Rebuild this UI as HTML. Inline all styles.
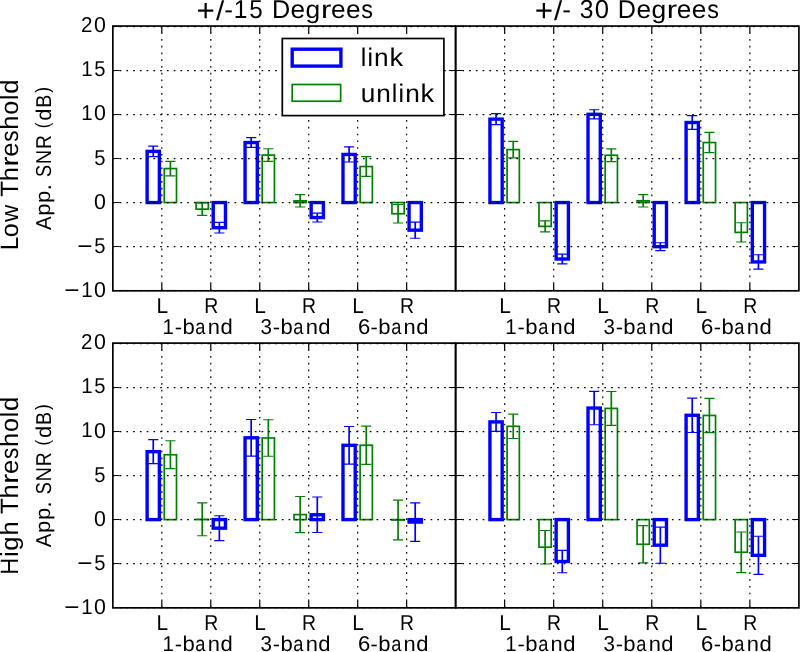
<!DOCTYPE html>
<html><head><meta charset="utf-8"><style>
html,body{margin:0;padding:0;background:#fff;}
svg{display:block;will-change:transform;}
text{font-family:"Liberation Sans",sans-serif;font-kerning:none;text-rendering:geometricPrecision;}
</style></head><body>
<svg width="800" height="652" viewBox="0 0 800 652">
<rect width="800" height="652" fill="#fff"/>
<g><rect x="147.12" y="151.36" width="12.24" height="51.19" fill="#fff" stroke="#0000ff" stroke-width="3.38"/><rect x="164.26" y="168.57" width="12.24" height="33.98" fill="#fff" stroke="#008000" stroke-width="1.69"/><rect x="213.23" y="202.55" width="12.24" height="25.15" fill="#fff" stroke="#0000ff" stroke-width="3.38"/><rect x="196.09" y="202.55" width="12.24" height="6.62" fill="#fff" stroke="#008000" stroke-width="1.69"/><rect x="245.05" y="142.54" width="12.24" height="60.01" fill="#fff" stroke="#0000ff" stroke-width="3.38"/><rect x="262.19" y="155.07" width="12.24" height="47.48" fill="#fff" stroke="#008000" stroke-width="1.69"/><rect x="311.16" y="202.55" width="12.24" height="15" fill="#fff" stroke="#0000ff" stroke-width="3.38"/><rect x="294.02" y="200.78" width="12.24" height="1.77" fill="#fff" stroke="#008000" stroke-width="1.69"/><rect x="342.98" y="154.45" width="12.24" height="48.1" fill="#fff" stroke="#0000ff" stroke-width="3.38"/><rect x="360.12" y="166.54" width="12.24" height="36.01" fill="#fff" stroke="#008000" stroke-width="1.69"/><rect x="409.08" y="202.55" width="12.24" height="27.62" fill="#fff" stroke="#0000ff" stroke-width="3.38"/><rect x="391.95" y="202.55" width="12.24" height="11.21" fill="#fff" stroke="#008000" stroke-width="1.69"/></g>
<g fill="none"><path d="M153.25 146.07V156.66" stroke="#0000ff" stroke-width="1.69"/><path d="M148.18 146.07H158.32M148.18 156.66H158.32" stroke="#0000ff" stroke-width="1.15"/><path d="M170.38 161.34V175.81" stroke="#008000" stroke-width="1.69"/><path d="M165.31 161.34H175.45M165.31 175.81H175.45" stroke="#008000" stroke-width="1.15"/><path d="M219.35 222.41V233" stroke="#0000ff" stroke-width="1.69"/><path d="M214.28 222.41H224.42M214.28 233H224.42" stroke="#0000ff" stroke-width="1.15"/><path d="M202.21 202.99V215.35" stroke="#008000" stroke-width="1.69"/><path d="M197.14 202.99H207.28M197.14 215.35H207.28" stroke="#008000" stroke-width="1.15"/><path d="M251.17 137.69V147.39" stroke="#0000ff" stroke-width="1.69"/><path d="M246.1 137.69H256.24M246.1 147.39H256.24" stroke="#0000ff" stroke-width="1.15"/><path d="M268.31 148.72V161.43" stroke="#008000" stroke-width="1.69"/><path d="M263.24 148.72H273.38M263.24 161.43H273.38" stroke="#008000" stroke-width="1.15"/><path d="M317.28 213.14V221.97" stroke="#0000ff" stroke-width="1.69"/><path d="M312.21 213.14H322.35M312.21 221.97H322.35" stroke="#0000ff" stroke-width="1.15"/><path d="M300.14 194.61V206.96" stroke="#008000" stroke-width="1.69"/><path d="M295.07 194.61H305.21M295.07 206.96H305.21" stroke="#008000" stroke-width="1.15"/><path d="M349.1 146.86V162.04" stroke="#0000ff" stroke-width="1.69"/><path d="M344.03 146.86H354.17M344.03 162.04H354.17" stroke="#0000ff" stroke-width="1.15"/><path d="M366.24 156.66V176.43" stroke="#008000" stroke-width="1.69"/><path d="M361.17 156.66H371.31M361.17 176.43H371.31" stroke="#008000" stroke-width="1.15"/><path d="M415.2 222.05V238.29" stroke="#0000ff" stroke-width="1.69"/><path d="M410.13 222.05H420.27M410.13 238.29H420.27" stroke="#0000ff" stroke-width="1.15"/><path d="M398.07 204.49V223.02" stroke="#008000" stroke-width="1.69"/><path d="M393 204.49H403.14M393 223.02H403.14" stroke="#008000" stroke-width="1.15"/></g>
<path d="M161.81 290.8V26.05M210.78 290.8V26.05M259.74 290.8V26.05M308.71 290.8V26.05M357.67 290.8V26.05M406.64 290.8V26.05" stroke="#000" stroke-width="1.2" stroke-dasharray="1.69 5.07" fill="none"/>
<path d="M112.85 290.5H455.6M112.85 246.5H455.6M112.85 202.5H455.6M112.85 158.5H455.6M112.85 114.5H455.6M112.85 70.5H455.6M112.85 26.5H455.6" stroke="#000" stroke-width="1.25" stroke-dasharray="1.69 5.07" fill="none"/>
<path d="M161.81 290.8v-6.76M161.81 26.05v6.76M210.78 290.8v-6.76M210.78 26.05v6.76M259.74 290.8v-6.76M259.74 26.05v6.76M308.71 290.8v-6.76M308.71 26.05v6.76M357.67 290.8v-6.76M357.67 26.05v6.76M406.64 290.8v-6.76M406.64 26.05v6.76" stroke="#000" stroke-width="1.2" fill="none"/>
<path d="M112.85 290.5h6.76M455.6 290.5h-6.76M112.85 246.5h6.76M455.6 246.5h-6.76M112.85 202.5h6.76M455.6 202.5h-6.76M112.85 158.5h6.76M455.6 158.5h-6.76M112.85 114.5h6.76M455.6 114.5h-6.76M112.85 70.5h6.76M455.6 70.5h-6.76M112.85 26.5h6.76M455.6 26.5h-6.76" stroke="#000" stroke-width="1" fill="none"/>
<rect x="112.85" y="26.05" width="342.75" height="264.75" fill="none" stroke="#000" stroke-width="1.69"/>
<g><rect x="489.93" y="119.15" width="12.26" height="83.4" fill="#fff" stroke="#0000ff" stroke-width="3.38"/><rect x="507.1" y="149.6" width="12.26" height="52.95" fill="#fff" stroke="#008000" stroke-width="1.69"/><rect x="556.14" y="202.55" width="12.26" height="56.48" fill="#fff" stroke="#0000ff" stroke-width="3.38"/><rect x="538.97" y="202.55" width="12.26" height="23.83" fill="#fff" stroke="#008000" stroke-width="1.69"/><rect x="588.02" y="114.3" width="12.26" height="88.25" fill="#fff" stroke="#0000ff" stroke-width="3.38"/><rect x="605.18" y="155.25" width="12.26" height="47.3" fill="#fff" stroke="#008000" stroke-width="1.69"/><rect x="654.22" y="202.55" width="12.26" height="44.12" fill="#fff" stroke="#0000ff" stroke-width="3.38"/><rect x="637.06" y="200.78" width="12.26" height="1.77" fill="#fff" stroke="#008000" stroke-width="1.69"/><rect x="686.1" y="122.51" width="12.26" height="80.04" fill="#fff" stroke="#0000ff" stroke-width="3.38"/><rect x="703.27" y="142.54" width="12.26" height="60.01" fill="#fff" stroke="#008000" stroke-width="1.69"/><rect x="752.31" y="202.55" width="12.26" height="59.39" fill="#fff" stroke="#0000ff" stroke-width="3.38"/><rect x="735.14" y="202.55" width="12.26" height="29.83" fill="#fff" stroke="#008000" stroke-width="1.69"/></g>
<g fill="none"><path d="M496.06 113.68V124.63" stroke="#0000ff" stroke-width="1.69"/><path d="M490.99 113.68H501.13M490.99 124.63H501.13" stroke="#0000ff" stroke-width="1.15"/><path d="M513.23 141.39V157.81" stroke="#008000" stroke-width="1.69"/><path d="M508.16 141.39H518.3M508.16 157.81H518.3" stroke="#008000" stroke-width="1.15"/><path d="M562.27 254.18V263.88" stroke="#0000ff" stroke-width="1.69"/><path d="M557.2 254.18H567.34M557.2 263.88H567.34" stroke="#0000ff" stroke-width="1.15"/><path d="M545.1 220.82V231.94" stroke="#008000" stroke-width="1.69"/><path d="M540.03 220.82H550.17M540.03 231.94H550.17" stroke="#008000" stroke-width="1.15"/><path d="M594.15 109.71V118.89" stroke="#0000ff" stroke-width="1.69"/><path d="M589.08 109.71H599.22M589.08 118.89H599.22" stroke="#0000ff" stroke-width="1.15"/><path d="M611.31 148.81V161.69" stroke="#008000" stroke-width="1.69"/><path d="M606.24 148.81H616.38M606.24 161.69H616.38" stroke="#008000" stroke-width="1.15"/><path d="M660.35 242.7V250.65" stroke="#0000ff" stroke-width="1.69"/><path d="M655.28 242.7H665.42M655.28 250.65H665.42" stroke="#0000ff" stroke-width="1.15"/><path d="M643.19 194.61V206.96" stroke="#008000" stroke-width="1.69"/><path d="M638.12 194.61H648.26M638.12 206.96H648.26" stroke="#008000" stroke-width="1.15"/><path d="M692.23 115.62V129.39" stroke="#0000ff" stroke-width="1.69"/><path d="M687.16 115.62H697.3M687.16 129.39H697.3" stroke="#0000ff" stroke-width="1.15"/><path d="M709.4 132.39V152.69" stroke="#008000" stroke-width="1.69"/><path d="M704.33 132.39H714.47M704.33 152.69H714.47" stroke="#008000" stroke-width="1.15"/><path d="M758.44 254.79V269.09" stroke="#0000ff" stroke-width="1.69"/><path d="M753.37 254.79H763.51M753.37 269.09H763.51" stroke="#0000ff" stroke-width="1.15"/><path d="M741.27 222.76V242" stroke="#008000" stroke-width="1.69"/><path d="M736.2 222.76H746.34M736.2 242H746.34" stroke="#008000" stroke-width="1.15"/></g>
<path d="M504.64 290.8V26.05M553.69 290.8V26.05M602.73 290.8V26.05M651.77 290.8V26.05M700.81 290.8V26.05M749.86 290.8V26.05" stroke="#000" stroke-width="1.2" stroke-dasharray="1.69 5.07" fill="none"/>
<path d="M455.6 290.5H798.9M455.6 246.5H798.9M455.6 202.5H798.9M455.6 158.5H798.9M455.6 114.5H798.9M455.6 70.5H798.9M455.6 26.5H798.9" stroke="#000" stroke-width="1.25" stroke-dasharray="1.69 5.07" fill="none"/>
<path d="M504.64 290.8v-6.76M504.64 26.05v6.76M553.69 290.8v-6.76M553.69 26.05v6.76M602.73 290.8v-6.76M602.73 26.05v6.76M651.77 290.8v-6.76M651.77 26.05v6.76M700.81 290.8v-6.76M700.81 26.05v6.76M749.86 290.8v-6.76M749.86 26.05v6.76" stroke="#000" stroke-width="1.2" fill="none"/>
<path d="M455.6 290.5h6.76M798.9 290.5h-6.76M455.6 246.5h6.76M798.9 246.5h-6.76M455.6 202.5h6.76M798.9 202.5h-6.76M455.6 158.5h6.76M798.9 158.5h-6.76M455.6 114.5h6.76M798.9 114.5h-6.76M455.6 70.5h6.76M798.9 70.5h-6.76M455.6 26.5h6.76M798.9 26.5h-6.76" stroke="#000" stroke-width="1" fill="none"/>
<rect x="455.6" y="26.05" width="343.3" height="264.75" fill="none" stroke="#000" stroke-width="1.69"/>
<g><rect x="147.12" y="451.65" width="12.24" height="67.95" fill="#fff" stroke="#0000ff" stroke-width="3.38"/><rect x="164.26" y="454.74" width="12.24" height="64.86" fill="#fff" stroke="#008000" stroke-width="1.69"/><rect x="213.23" y="519.6" width="12.24" height="8.56" fill="#fff" stroke="#0000ff" stroke-width="3.38"/><rect x="196.09" y="519.34" width="12.24" height="0.26" fill="#fff" stroke="#008000" stroke-width="1.69"/><rect x="245.05" y="437.79" width="12.24" height="81.81" fill="#fff" stroke="#0000ff" stroke-width="3.38"/><rect x="262.19" y="437.97" width="12.24" height="81.63" fill="#fff" stroke="#008000" stroke-width="1.69"/><rect x="311.16" y="514.75" width="12.24" height="4.85" fill="#fff" stroke="#0000ff" stroke-width="3.38"/><rect x="294.02" y="514.57" width="12.24" height="5.03" fill="#fff" stroke="#008000" stroke-width="1.69"/><rect x="342.98" y="445.29" width="12.24" height="74.31" fill="#fff" stroke="#0000ff" stroke-width="3.38"/><rect x="360.12" y="445.21" width="12.24" height="74.39" fill="#fff" stroke="#008000" stroke-width="1.69"/><rect x="409.08" y="519.6" width="12.24" height="2.47" fill="#fff" stroke="#0000ff" stroke-width="3.38"/><rect x="391.95" y="519.6" width="12.24" height="0.44" fill="#fff" stroke="#008000" stroke-width="1.69"/></g>
<g fill="none"><path d="M153.25 439.65V463.65" stroke="#0000ff" stroke-width="1.69"/><path d="M148.18 439.65H158.32M148.18 463.65H158.32" stroke="#0000ff" stroke-width="1.15"/><path d="M170.38 440.79V468.68" stroke="#008000" stroke-width="1.69"/><path d="M165.31 440.79H175.45M165.31 468.68H175.45" stroke="#008000" stroke-width="1.15"/><path d="M219.35 515.72V540.6" stroke="#0000ff" stroke-width="1.69"/><path d="M214.28 515.72H224.42M214.28 540.6H224.42" stroke="#0000ff" stroke-width="1.15"/><path d="M202.21 502.92V535.75" stroke="#008000" stroke-width="1.69"/><path d="M197.14 502.92H207.28M197.14 535.75H207.28" stroke="#008000" stroke-width="1.15"/><path d="M251.17 419.52V456.06" stroke="#0000ff" stroke-width="1.69"/><path d="M246.1 419.52H256.24M246.1 456.06H256.24" stroke="#0000ff" stroke-width="1.15"/><path d="M268.31 419.7V456.24" stroke="#008000" stroke-width="1.69"/><path d="M263.24 419.7H273.38M263.24 456.24H273.38" stroke="#008000" stroke-width="1.15"/><path d="M317.28 497.01V532.48" stroke="#0000ff" stroke-width="1.69"/><path d="M312.21 497.01H322.35M312.21 532.48H322.35" stroke="#0000ff" stroke-width="1.15"/><path d="M300.14 496.48V532.66" stroke="#008000" stroke-width="1.69"/><path d="M295.07 496.48H305.21M295.07 532.66H305.21" stroke="#008000" stroke-width="1.15"/><path d="M349.1 426.5V464.09" stroke="#0000ff" stroke-width="1.69"/><path d="M344.03 426.5H354.17M344.03 464.09H354.17" stroke="#0000ff" stroke-width="1.15"/><path d="M366.24 426.06V464.36" stroke="#008000" stroke-width="1.69"/><path d="M361.17 426.06H371.31M361.17 464.36H371.31" stroke="#008000" stroke-width="1.15"/><path d="M415.2 502.83V541.31" stroke="#0000ff" stroke-width="1.69"/><path d="M410.13 502.83H420.27M410.13 541.31H420.27" stroke="#0000ff" stroke-width="1.15"/><path d="M398.07 500.19V539.9" stroke="#008000" stroke-width="1.69"/><path d="M393 500.19H403.14M393 539.9H403.14" stroke="#008000" stroke-width="1.15"/></g>
<path d="M161.81 607.85V343.1M210.78 607.85V343.1M259.74 607.85V343.1M308.71 607.85V343.1M357.67 607.85V343.1M406.64 607.85V343.1" stroke="#000" stroke-width="1.2" stroke-dasharray="1.69 5.07" fill="none"/>
<path d="M112.85 607.5H455.6M112.85 563.5H455.6M112.85 519.5H455.6M112.85 475.5H455.6M112.85 431.5H455.6M112.85 387.5H455.6M112.85 343.5H455.6" stroke="#000" stroke-width="1.25" stroke-dasharray="1.69 5.07" fill="none"/>
<path d="M161.81 607.85v-6.76M161.81 343.1v6.76M210.78 607.85v-6.76M210.78 343.1v6.76M259.74 607.85v-6.76M259.74 343.1v6.76M308.71 607.85v-6.76M308.71 343.1v6.76M357.67 607.85v-6.76M357.67 343.1v6.76M406.64 607.85v-6.76M406.64 343.1v6.76" stroke="#000" stroke-width="1.2" fill="none"/>
<path d="M112.85 607.5h6.76M455.6 607.5h-6.76M112.85 563.5h6.76M455.6 563.5h-6.76M112.85 519.5h6.76M455.6 519.5h-6.76M112.85 475.5h6.76M455.6 475.5h-6.76M112.85 431.5h6.76M455.6 431.5h-6.76M112.85 387.5h6.76M455.6 387.5h-6.76M112.85 343.5h6.76M455.6 343.5h-6.76" stroke="#000" stroke-width="1" fill="none"/>
<rect x="112.85" y="343.1" width="342.75" height="264.75" fill="none" stroke="#000" stroke-width="1.69"/>
<g><rect x="489.93" y="421.91" width="12.26" height="97.69" fill="#fff" stroke="#0000ff" stroke-width="3.38"/><rect x="507.1" y="426.32" width="12.26" height="93.28" fill="#fff" stroke="#008000" stroke-width="1.69"/><rect x="556.14" y="519.6" width="12.26" height="41.92" fill="#fff" stroke="#0000ff" stroke-width="3.38"/><rect x="538.97" y="519.6" width="12.26" height="27.62" fill="#fff" stroke="#008000" stroke-width="1.69"/><rect x="588.02" y="408.05" width="12.26" height="111.55" fill="#fff" stroke="#0000ff" stroke-width="3.38"/><rect x="605.18" y="408.41" width="12.26" height="111.19" fill="#fff" stroke="#008000" stroke-width="1.69"/><rect x="654.22" y="519.6" width="12.26" height="25.59" fill="#fff" stroke="#0000ff" stroke-width="3.38"/><rect x="637.06" y="519.6" width="12.26" height="24.71" fill="#fff" stroke="#008000" stroke-width="1.69"/><rect x="686.1" y="415.29" width="12.26" height="104.31" fill="#fff" stroke="#0000ff" stroke-width="3.38"/><rect x="703.27" y="415.47" width="12.26" height="104.13" fill="#fff" stroke="#008000" stroke-width="1.69"/><rect x="752.31" y="519.6" width="12.26" height="35.74" fill="#fff" stroke="#0000ff" stroke-width="3.38"/><rect x="735.14" y="519.6" width="12.26" height="32.65" fill="#fff" stroke="#008000" stroke-width="1.69"/></g>
<g fill="none"><path d="M496.06 412.46V431.35" stroke="#0000ff" stroke-width="1.69"/><path d="M490.99 412.46H501.13M490.99 431.35H501.13" stroke="#0000ff" stroke-width="1.15"/><path d="M513.23 414.14V438.5" stroke="#008000" stroke-width="1.69"/><path d="M508.16 414.14H518.3M508.16 438.5H518.3" stroke="#008000" stroke-width="1.15"/><path d="M562.27 550.31V572.73" stroke="#0000ff" stroke-width="1.69"/><path d="M557.2 550.31H567.34M557.2 572.73H567.34" stroke="#0000ff" stroke-width="1.15"/><path d="M545.1 530.45V563.99" stroke="#008000" stroke-width="1.69"/><path d="M540.03 530.45H550.17M540.03 563.99H550.17" stroke="#008000" stroke-width="1.15"/><path d="M594.15 391.37V424.73" stroke="#0000ff" stroke-width="1.69"/><path d="M589.08 391.37H599.22M589.08 424.73H599.22" stroke="#0000ff" stroke-width="1.15"/><path d="M611.31 391.46V425.35" stroke="#008000" stroke-width="1.69"/><path d="M606.24 391.46H616.38M606.24 425.35H616.38" stroke="#008000" stroke-width="1.15"/><path d="M660.35 527.19V563.2" stroke="#0000ff" stroke-width="1.69"/><path d="M655.28 527.19H665.42M655.28 563.2H665.42" stroke="#0000ff" stroke-width="1.15"/><path d="M643.19 525.69V562.93" stroke="#008000" stroke-width="1.69"/><path d="M638.12 525.69H648.26M638.12 562.93H648.26" stroke="#008000" stroke-width="1.15"/><path d="M692.23 398.08V432.5" stroke="#0000ff" stroke-width="1.69"/><path d="M687.16 398.08H697.3M687.16 432.5H697.3" stroke="#0000ff" stroke-width="1.15"/><path d="M709.4 398.34V432.59" stroke="#008000" stroke-width="1.69"/><path d="M704.33 398.34H714.47M704.33 432.59H714.47" stroke="#008000" stroke-width="1.15"/><path d="M758.44 536.28V574.4" stroke="#0000ff" stroke-width="1.69"/><path d="M753.37 536.28H763.51M753.37 574.4H763.51" stroke="#0000ff" stroke-width="1.15"/><path d="M741.27 531.95V572.55" stroke="#008000" stroke-width="1.69"/><path d="M736.2 531.95H746.34M736.2 572.55H746.34" stroke="#008000" stroke-width="1.15"/></g>
<path d="M504.64 607.85V343.1M553.69 607.85V343.1M602.73 607.85V343.1M651.77 607.85V343.1M700.81 607.85V343.1M749.86 607.85V343.1" stroke="#000" stroke-width="1.2" stroke-dasharray="1.69 5.07" fill="none"/>
<path d="M455.6 607.5H798.9M455.6 563.5H798.9M455.6 519.5H798.9M455.6 475.5H798.9M455.6 431.5H798.9M455.6 387.5H798.9M455.6 343.5H798.9" stroke="#000" stroke-width="1.25" stroke-dasharray="1.69 5.07" fill="none"/>
<path d="M504.64 607.85v-6.76M504.64 343.1v6.76M553.69 607.85v-6.76M553.69 343.1v6.76M602.73 607.85v-6.76M602.73 343.1v6.76M651.77 607.85v-6.76M651.77 343.1v6.76M700.81 607.85v-6.76M700.81 343.1v6.76M749.86 607.85v-6.76M749.86 343.1v6.76" stroke="#000" stroke-width="1.2" fill="none"/>
<path d="M455.6 607.5h6.76M798.9 607.5h-6.76M455.6 563.5h6.76M798.9 563.5h-6.76M455.6 519.5h6.76M798.9 519.5h-6.76M455.6 475.5h6.76M798.9 475.5h-6.76M455.6 431.5h6.76M798.9 431.5h-6.76M455.6 387.5h6.76M798.9 387.5h-6.76M455.6 343.5h6.76M798.9 343.5h-6.76" stroke="#000" stroke-width="1" fill="none"/>
<rect x="455.6" y="343.1" width="343.3" height="264.75" fill="none" stroke="#000" stroke-width="1.69"/>
<rect x="282.3" y="38.5" width="161.6" height="77.1" fill="#fff" stroke="#000" stroke-width="1.69"/>
<rect x="292.2" y="49.2" width="48.7" height="16.9" fill="#fff" stroke="#0000ff" stroke-width="3.38"/>
<rect x="292.2" y="84.5" width="48.45" height="16.75" fill="#fff" stroke="#008000" stroke-width="1.69"/>
<g font-family="Liberation Sans, sans-serif" fill="#000"><text transform="translate(360.72 66.40) scale(1.0222 1.0485)" font-size="24.34">l</text><text transform="translate(367.50 66.40) scale(1.0222 1.0485)" font-size="24.34">i</text><text transform="translate(374.10 66.40) scale(1.0782 1.0408)" font-size="24.34">n</text><text transform="translate(389.43 66.40) scale(1.1181 1.0485)" font-size="24.34">k</text><text transform="translate(360.70 101.59) scale(1.0782 1.0672)" font-size="24.34">u</text><text transform="translate(376.22 101.50) scale(1.0782 1.0408)" font-size="24.34">n</text><text transform="translate(391.80 101.50) scale(1.0222 1.0485)" font-size="24.34">l</text><text transform="translate(398.57 101.50) scale(1.0222 1.0485)" font-size="24.34">i</text><text transform="translate(405.17 101.50) scale(1.0782 1.0408)" font-size="24.34">n</text><text transform="translate(420.50 101.50) scale(1.1181 1.0485)" font-size="24.34">k</text><text transform="translate(196.57 20.84) scale(1.2884 1.2814)" font-size="24.34">+</text><text transform="translate(215.91 20.09) scale(1.2127 1.1190)" font-size="24.34">/</text><text transform="translate(224.13 18.06) scale(1.0780 1.0250)" font-size="24.34">-</text><text transform="translate(233.70 18.10) scale(1.0068 1.0596)" font-size="24.34">1</text><text transform="translate(249.28 18.19) scale(0.9949 1.0651)" font-size="24.34">5</text><text transform="translate(271.92 18.10) scale(1.0346 1.0596)" font-size="24.34">D</text><text transform="translate(290.56 18.20) scale(1.0801 1.0481)" font-size="24.34">e</text><text transform="translate(305.54 17.95) scale(1.0869 1.0322)" font-size="24.34">g</text><text transform="translate(320.89 18.10) scale(1.2813 1.0408)" font-size="24.34">r</text><text transform="translate(330.99 18.20) scale(1.0801 1.0481)" font-size="24.34">e</text><text transform="translate(345.96 18.20) scale(1.0801 1.0481)" font-size="24.34">e</text><text transform="translate(361.37 18.19) scale(0.9586 1.0509)" font-size="24.34">s</text><text transform="translate(534.72 20.84) scale(1.2884 1.2814)" font-size="24.34">+</text><text transform="translate(554.06 20.09) scale(1.2127 1.1190)" font-size="24.34">/</text><text transform="translate(562.28 18.06) scale(1.0780 1.0250)" font-size="24.34">-</text><text transform="translate(579.69 18.19) scale(1.0124 1.0683)" font-size="24.34">3</text><text transform="translate(594.86 18.19) scale(1.0541 1.0683)" font-size="24.34">0</text><text transform="translate(617.80 18.10) scale(1.0346 1.0596)" font-size="24.34">D</text><text transform="translate(636.45 18.20) scale(1.0801 1.0481)" font-size="24.34">e</text><text transform="translate(651.42 17.95) scale(1.0869 1.0322)" font-size="24.34">g</text><text transform="translate(666.78 18.10) scale(1.2813 1.0408)" font-size="24.34">r</text><text transform="translate(676.87 18.20) scale(1.0801 1.0481)" font-size="24.34">e</text><text transform="translate(691.84 18.20) scale(1.0801 1.0481)" font-size="24.34">e</text><text transform="translate(707.26 18.19) scale(0.9586 1.0509)" font-size="24.34">s</text><text transform="translate(64.36 298.39) scale(1.2884 1.1644)" font-size="20.28">−</text><text transform="translate(81.17 296.90) scale(1.0068 1.0596)" font-size="20.28">1</text><text transform="translate(93.90 296.98) scale(1.0541 1.0683)" font-size="20.28">0</text><text transform="translate(77.27 254.27) scale(1.2884 1.1644)" font-size="20.28">−</text><text transform="translate(94.15 252.85) scale(0.9949 1.0651)" font-size="20.28">5</text><text transform="translate(93.90 208.73) scale(1.0541 1.0683)" font-size="20.28">0</text><text transform="translate(94.15 164.60) scale(0.9949 1.0651)" font-size="20.28">5</text><text transform="translate(81.17 120.40) scale(1.0068 1.0596)" font-size="20.28">1</text><text transform="translate(93.90 120.48) scale(1.0541 1.0683)" font-size="20.28">0</text><text transform="translate(81.17 76.27) scale(1.0068 1.0596)" font-size="20.28">1</text><text transform="translate(94.15 76.35) scale(0.9949 1.0651)" font-size="20.28">5</text><text transform="translate(80.94 32.15) scale(1.0161 1.0629)" font-size="20.28">2</text><text transform="translate(93.90 32.23) scale(1.0541 1.0683)" font-size="20.28">0</text><text transform="translate(64.36 615.44) scale(1.2884 1.1644)" font-size="20.28">−</text><text transform="translate(81.17 613.95) scale(1.0068 1.0596)" font-size="20.28">1</text><text transform="translate(93.90 614.03) scale(1.0541 1.0683)" font-size="20.28">0</text><text transform="translate(77.27 571.32) scale(1.2884 1.1644)" font-size="20.28">−</text><text transform="translate(94.15 569.90) scale(0.9949 1.0651)" font-size="20.28">5</text><text transform="translate(93.90 525.78) scale(1.0541 1.0683)" font-size="20.28">0</text><text transform="translate(94.15 481.65) scale(0.9949 1.0651)" font-size="20.28">5</text><text transform="translate(81.17 437.45) scale(1.0068 1.0596)" font-size="20.28">1</text><text transform="translate(93.90 437.53) scale(1.0541 1.0683)" font-size="20.28">0</text><text transform="translate(81.17 393.33) scale(1.0068 1.0596)" font-size="20.28">1</text><text transform="translate(94.15 393.40) scale(0.9949 1.0651)" font-size="20.28">5</text><text transform="translate(80.94 349.20) scale(1.0161 1.0629)" font-size="20.28">2</text><text transform="translate(93.90 349.28) scale(1.0541 1.0683)" font-size="20.28">0</text><text transform="translate(156.44 313.20) scale(1.0288 1.0596)" font-size="20.28">L</text><text transform="translate(204.13 313.20) scale(0.9564 1.0596)" font-size="20.28">R</text><text transform="translate(254.37 313.20) scale(1.0288 1.0596)" font-size="20.28">L</text><text transform="translate(302.06 313.20) scale(0.9564 1.0596)" font-size="20.28">R</text><text transform="translate(352.30 313.20) scale(1.0288 1.0596)" font-size="20.28">L</text><text transform="translate(399.99 313.20) scale(0.9564 1.0596)" font-size="20.28">R</text><text transform="translate(162.49 334.30) scale(1.0068 1.0596)" font-size="20.28">1</text><text transform="translate(174.74 334.27) scale(1.0780 1.0250)" font-size="20.28">-</text><text transform="translate(182.45 334.38) scale(1.0879 1.0539)" font-size="20.28">b</text><text transform="translate(195.35 334.38) scale(0.8992 1.0481)" font-size="20.28">a</text><text transform="translate(207.73 334.30) scale(1.0782 1.0408)" font-size="20.28">n</text><text transform="translate(220.38 334.38) scale(1.0869 1.0539)" font-size="20.28">d</text><text transform="translate(260.51 334.38) scale(1.0124 1.0683)" font-size="20.28">3</text><text transform="translate(272.66 334.27) scale(1.0780 1.0250)" font-size="20.28">-</text><text transform="translate(280.38 334.38) scale(1.0879 1.0539)" font-size="20.28">b</text><text transform="translate(293.28 334.38) scale(0.8992 1.0481)" font-size="20.28">a</text><text transform="translate(305.65 334.30) scale(1.0782 1.0408)" font-size="20.28">n</text><text transform="translate(318.31 334.38) scale(1.0869 1.0539)" font-size="20.28">d</text><text transform="translate(357.96 334.38) scale(1.0910 1.0683)" font-size="20.28">6</text><text transform="translate(370.59 334.27) scale(1.0780 1.0250)" font-size="20.28">-</text><text transform="translate(378.31 334.38) scale(1.0879 1.0539)" font-size="20.28">b</text><text transform="translate(391.21 334.38) scale(0.8992 1.0481)" font-size="20.28">a</text><text transform="translate(403.58 334.30) scale(1.0782 1.0408)" font-size="20.28">n</text><text transform="translate(416.24 334.38) scale(1.0869 1.0539)" font-size="20.28">d</text><text transform="translate(499.27 313.20) scale(1.0288 1.0596)" font-size="20.28">L</text><text transform="translate(547.04 313.20) scale(0.9564 1.0596)" font-size="20.28">R</text><text transform="translate(597.36 313.20) scale(1.0288 1.0596)" font-size="20.28">L</text><text transform="translate(645.13 313.20) scale(0.9564 1.0596)" font-size="20.28">R</text><text transform="translate(695.44 313.20) scale(1.0288 1.0596)" font-size="20.28">L</text><text transform="translate(743.21 313.20) scale(0.9564 1.0596)" font-size="20.28">R</text><text transform="translate(505.32 334.30) scale(1.0068 1.0596)" font-size="20.28">1</text><text transform="translate(517.56 334.27) scale(1.0780 1.0250)" font-size="20.28">-</text><text transform="translate(525.28 334.38) scale(1.0879 1.0539)" font-size="20.28">b</text><text transform="translate(538.18 334.38) scale(0.8992 1.0481)" font-size="20.28">a</text><text transform="translate(550.55 334.30) scale(1.0782 1.0408)" font-size="20.28">n</text><text transform="translate(563.21 334.38) scale(1.0869 1.0539)" font-size="20.28">d</text><text transform="translate(603.49 334.38) scale(1.0124 1.0683)" font-size="20.28">3</text><text transform="translate(615.65 334.27) scale(1.0780 1.0250)" font-size="20.28">-</text><text transform="translate(623.37 334.38) scale(1.0879 1.0539)" font-size="20.28">b</text><text transform="translate(636.27 334.38) scale(0.8992 1.0481)" font-size="20.28">a</text><text transform="translate(648.64 334.30) scale(1.0782 1.0408)" font-size="20.28">n</text><text transform="translate(661.30 334.38) scale(1.0869 1.0539)" font-size="20.28">d</text><text transform="translate(701.11 334.38) scale(1.0910 1.0683)" font-size="20.28">6</text><text transform="translate(713.74 334.27) scale(1.0780 1.0250)" font-size="20.28">-</text><text transform="translate(721.45 334.38) scale(1.0879 1.0539)" font-size="20.28">b</text><text transform="translate(734.35 334.38) scale(0.8992 1.0481)" font-size="20.28">a</text><text transform="translate(746.73 334.30) scale(1.0782 1.0408)" font-size="20.28">n</text><text transform="translate(759.38 334.38) scale(1.0869 1.0539)" font-size="20.28">d</text><text transform="translate(156.44 630.25) scale(1.0288 1.0596)" font-size="20.28">L</text><text transform="translate(204.13 630.25) scale(0.9564 1.0596)" font-size="20.28">R</text><text transform="translate(254.37 630.25) scale(1.0288 1.0596)" font-size="20.28">L</text><text transform="translate(302.06 630.25) scale(0.9564 1.0596)" font-size="20.28">R</text><text transform="translate(352.30 630.25) scale(1.0288 1.0596)" font-size="20.28">L</text><text transform="translate(399.99 630.25) scale(0.9564 1.0596)" font-size="20.28">R</text><text transform="translate(162.49 651.35) scale(1.0068 1.0596)" font-size="20.28">1</text><text transform="translate(174.74 651.32) scale(1.0780 1.0250)" font-size="20.28">-</text><text transform="translate(182.45 651.43) scale(1.0879 1.0539)" font-size="20.28">b</text><text transform="translate(195.35 651.43) scale(0.8992 1.0481)" font-size="20.28">a</text><text transform="translate(207.73 651.35) scale(1.0782 1.0408)" font-size="20.28">n</text><text transform="translate(220.38 651.43) scale(1.0869 1.0539)" font-size="20.28">d</text><text transform="translate(260.51 651.43) scale(1.0124 1.0683)" font-size="20.28">3</text><text transform="translate(272.66 651.32) scale(1.0780 1.0250)" font-size="20.28">-</text><text transform="translate(280.38 651.43) scale(1.0879 1.0539)" font-size="20.28">b</text><text transform="translate(293.28 651.43) scale(0.8992 1.0481)" font-size="20.28">a</text><text transform="translate(305.65 651.35) scale(1.0782 1.0408)" font-size="20.28">n</text><text transform="translate(318.31 651.43) scale(1.0869 1.0539)" font-size="20.28">d</text><text transform="translate(357.96 651.43) scale(1.0910 1.0683)" font-size="20.28">6</text><text transform="translate(370.59 651.32) scale(1.0780 1.0250)" font-size="20.28">-</text><text transform="translate(378.31 651.43) scale(1.0879 1.0539)" font-size="20.28">b</text><text transform="translate(391.21 651.43) scale(0.8992 1.0481)" font-size="20.28">a</text><text transform="translate(403.58 651.35) scale(1.0782 1.0408)" font-size="20.28">n</text><text transform="translate(416.24 651.43) scale(1.0869 1.0539)" font-size="20.28">d</text><text transform="translate(499.27 630.25) scale(1.0288 1.0596)" font-size="20.28">L</text><text transform="translate(547.04 630.25) scale(0.9564 1.0596)" font-size="20.28">R</text><text transform="translate(597.36 630.25) scale(1.0288 1.0596)" font-size="20.28">L</text><text transform="translate(645.13 630.25) scale(0.9564 1.0596)" font-size="20.28">R</text><text transform="translate(695.44 630.25) scale(1.0288 1.0596)" font-size="20.28">L</text><text transform="translate(743.21 630.25) scale(0.9564 1.0596)" font-size="20.28">R</text><text transform="translate(505.32 651.35) scale(1.0068 1.0596)" font-size="20.28">1</text><text transform="translate(517.56 651.32) scale(1.0780 1.0250)" font-size="20.28">-</text><text transform="translate(525.28 651.43) scale(1.0879 1.0539)" font-size="20.28">b</text><text transform="translate(538.18 651.43) scale(0.8992 1.0481)" font-size="20.28">a</text><text transform="translate(550.55 651.35) scale(1.0782 1.0408)" font-size="20.28">n</text><text transform="translate(563.21 651.43) scale(1.0869 1.0539)" font-size="20.28">d</text><text transform="translate(603.49 651.43) scale(1.0124 1.0683)" font-size="20.28">3</text><text transform="translate(615.65 651.32) scale(1.0780 1.0250)" font-size="20.28">-</text><text transform="translate(623.37 651.43) scale(1.0879 1.0539)" font-size="20.28">b</text><text transform="translate(636.27 651.43) scale(0.8992 1.0481)" font-size="20.28">a</text><text transform="translate(648.64 651.35) scale(1.0782 1.0408)" font-size="20.28">n</text><text transform="translate(661.30 651.43) scale(1.0869 1.0539)" font-size="20.28">d</text><text transform="translate(701.11 651.43) scale(1.0910 1.0683)" font-size="20.28">6</text><text transform="translate(713.74 651.32) scale(1.0780 1.0250)" font-size="20.28">-</text><text transform="translate(721.45 651.43) scale(1.0879 1.0539)" font-size="20.28">b</text><text transform="translate(734.35 651.43) scale(0.8992 1.0481)" font-size="20.28">a</text><text transform="translate(746.73 651.35) scale(1.0782 1.0408)" font-size="20.28">n</text><text transform="translate(759.38 651.43) scale(1.0869 1.0539)" font-size="20.28">d</text><g transform="translate(18.00 250.62) rotate(-90)"><text transform="translate(0.33 0.00) scale(1.0288 1.0596)" font-size="23.66">L</text><text transform="translate(13.43 0.09) scale(1.0631 1.0481)" font-size="23.66">o</text><text transform="translate(28.69 0.00) scale(1.0108 1.0351)" font-size="23.66">w</text><text transform="translate(53.88 0.00) scale(1.0907 1.0596)" font-size="23.66">T</text><text transform="translate(69.35 0.00) scale(1.0856 1.0485)" font-size="23.66">h</text><text transform="translate(84.11 -0.00) scale(1.2812 1.0408)" font-size="23.66">r</text><text transform="translate(93.92 0.09) scale(1.0801 1.0481)" font-size="23.66">e</text><text transform="translate(108.91 0.09) scale(0.9586 1.0509)" font-size="23.66">s</text><text transform="translate(120.96 0.00) scale(1.0856 1.0485)" font-size="23.66">h</text><text transform="translate(135.83 0.09) scale(1.0631 1.0481)" font-size="23.66">o</text><text transform="translate(150.66 0.00) scale(1.0222 1.0485)" font-size="23.66">l</text><text transform="translate(156.86 0.09) scale(1.0869 1.0539)" font-size="23.66">d</text></g><g transform="translate(50.60 230.06) rotate(-90)"><text transform="translate(0.12 0.00) scale(1.0074 1.0596)" font-size="20.28">A</text><text transform="translate(14.29 -0.12) scale(1.0879 1.0308)" font-size="20.28">p</text><text transform="translate(27.17 -0.12) scale(1.0879 1.0308)" font-size="20.28">p</text><text transform="translate(39.78 0.00) scale(1.0821 1.1598)" font-size="20.28">.</text><text transform="translate(53.03 0.08) scale(0.8914 1.0683)" font-size="20.28">S</text><text transform="translate(65.73 0.00) scale(0.9878 1.0596)" font-size="20.28">N</text><text transform="translate(80.95 0.00) scale(0.9564 1.0596)" font-size="20.28">R</text><text transform="translate(101.77 -1.34) scale(0.8453 0.9560)" font-size="20.28">(</text><text transform="translate(109.20 0.08) scale(1.0869 1.0539)" font-size="20.28">d</text><text transform="translate(122.25 0.00) scale(0.9716 1.0596)" font-size="20.28">B</text><text transform="translate(137.31 -1.34) scale(0.8453 0.9560)" font-size="20.28">)</text></g><g transform="translate(18.00 575.22) rotate(-90)"><text transform="translate(0.39 0.00) scale(0.9948 1.0596)" font-size="23.66">H</text><text transform="translate(18.40 0.00) scale(1.0222 1.0485)" font-size="23.66">i</text><text transform="translate(24.59 -0.15) scale(1.0869 1.0322)" font-size="23.66">g</text><text transform="translate(39.75 0.00) scale(1.0856 1.0485)" font-size="23.66">h</text><text transform="translate(61.25 0.00) scale(1.0907 1.0596)" font-size="23.66">T</text><text transform="translate(76.72 0.00) scale(1.0856 1.0485)" font-size="23.66">h</text><text transform="translate(91.48 -0.00) scale(1.2812 1.0408)" font-size="23.66">r</text><text transform="translate(101.29 0.09) scale(1.0801 1.0481)" font-size="23.66">e</text><text transform="translate(116.28 0.09) scale(0.9586 1.0509)" font-size="23.66">s</text><text transform="translate(128.33 0.00) scale(1.0856 1.0485)" font-size="23.66">h</text><text transform="translate(143.20 0.09) scale(1.0631 1.0481)" font-size="23.66">o</text><text transform="translate(158.03 0.00) scale(1.0222 1.0485)" font-size="23.66">l</text><text transform="translate(164.23 0.09) scale(1.0869 1.0539)" font-size="23.66">d</text></g><g transform="translate(50.60 547.26) rotate(-90)"><text transform="translate(0.12 0.00) scale(1.0074 1.0596)" font-size="20.28">A</text><text transform="translate(14.29 -0.12) scale(1.0879 1.0308)" font-size="20.28">p</text><text transform="translate(27.17 -0.12) scale(1.0879 1.0308)" font-size="20.28">p</text><text transform="translate(39.78 0.00) scale(1.0821 1.1598)" font-size="20.28">.</text><text transform="translate(53.03 0.08) scale(0.8914 1.0683)" font-size="20.28">S</text><text transform="translate(65.73 0.00) scale(0.9878 1.0596)" font-size="20.28">N</text><text transform="translate(80.95 0.00) scale(0.9564 1.0596)" font-size="20.28">R</text><text transform="translate(101.77 -1.34) scale(0.8453 0.9560)" font-size="20.28">(</text><text transform="translate(109.20 0.08) scale(1.0869 1.0539)" font-size="20.28">d</text><text transform="translate(122.25 0.00) scale(0.9716 1.0596)" font-size="20.28">B</text><text transform="translate(137.31 -1.34) scale(0.8453 0.9560)" font-size="20.28">)</text></g></g>
</svg>
</body></html>
